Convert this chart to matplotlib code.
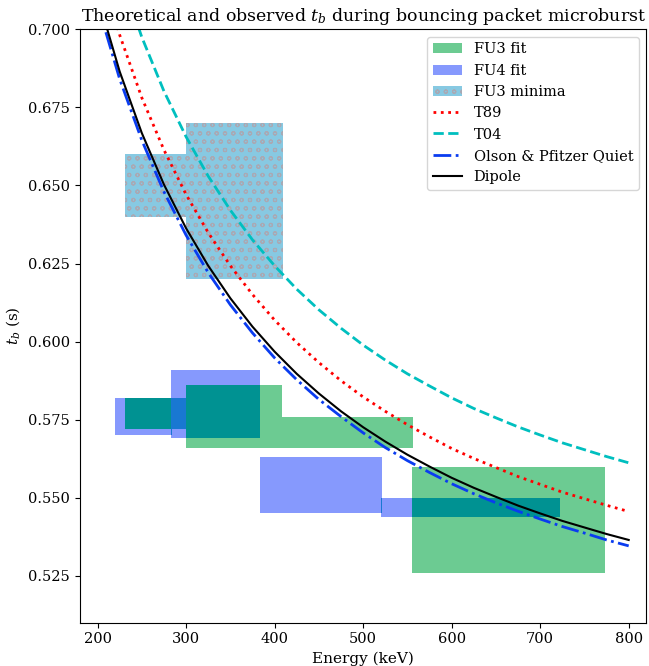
import matplotlib
matplotlib.use("Agg")
import matplotlib.pyplot as plt
from matplotlib.patches import Patch
from matplotlib.lines import Line2D

plt.rcParams['font.family'] = 'DejaVu Serif'
plt.rcParams['mathtext.fontset'] = 'dejavuserif'
plt.rcParams['hatch.linewidth'] = 0.8

# Theoretical bounce periods
energy = [200, 225, 250, 275, 300, 325, 350, 375, 400, 425, 450, 475, 500,
          525, 550, 575, 600, 625, 650, 675, 700, 725, 750, 775, 800]
t_dipole = [0.7106, 0.6865, 0.6668, 0.6503, 0.6363, 0.6243, 0.6139, 0.6048,
            0.5968, 0.5897, 0.5834, 0.5777, 0.5726, 0.5680, 0.5638, 0.5600,
            0.5564, 0.5532, 0.5503, 0.5475, 0.5450, 0.5426, 0.5405, 0.5384,
            0.5365]
t_t89 = [0.7227, 0.6982, 0.6781, 0.6614, 0.6471, 0.6349, 0.6243, 0.6151,
         0.6069, 0.5997, 0.5933, 0.5875, 0.5823, 0.5777, 0.5734, 0.5695,
         0.5658, 0.5626, 0.5597, 0.5568, 0.5543, 0.5518, 0.5497, 0.5476,
         0.5456]
t_t04 = [0.7433, 0.7181, 0.6975, 0.6802, 0.6656, 0.6530, 0.6421, 0.6326,
         0.6243, 0.6168, 0.6102, 0.6043, 0.5989, 0.5941, 0.5897, 0.5858,
         0.5820, 0.5786, 0.5756, 0.5727, 0.5701, 0.5676, 0.5654, 0.5632,
         0.5612]
t_op = [0.7081, 0.6841, 0.6645, 0.6480, 0.6341, 0.6221, 0.6118, 0.6028,
        0.5948, 0.5878, 0.5815, 0.5760, 0.5708, 0.5661, 0.5619, 0.5581,
        0.5545, 0.5513, 0.5484, 0.5457, 0.5432, 0.5408, 0.5387, 0.5365,
        0.5346]

# Observed t_b boxes (energy channel x t_b range)
fu3_e_lo = [231, 300, 408, 555]
fu3_e_hi = [300, 408, 556, 773]
fu3_tb_lo = [0.572, 0.566, 0.566, 0.526]
fu3_tb_hi = [0.582, 0.586, 0.576, 0.560]

fu4_e_lo = [220, 283, 383, 520]
fu4_e_hi = [284, 384, 521, 722]
fu4_tb_lo = [0.570, 0.569, 0.545, 0.544]
fu4_tb_hi = [0.582, 0.591, 0.563, 0.550]

min_e_lo = [231, 300]
min_e_hi = [300, 409]
min_tb_lo = [0.640, 0.620]
min_tb_hi = [0.660, 0.670]

c_fu3 = '#6ccb92'
c_fu4 = '#8699fd'
c_teal = '#009292'   # FU3 fit drawn over FU4 fit
c_dark = '#1978d2'   # FU4 fit drawn over another fit box
c_min = '#87c9e2'
c_hatch = '#a9a9b4'

fig = plt.figure(figsize=(6.49, 6.66), dpi=100)
ax = fig.add_axes([0.123, 0.065, 0.873, 0.891])

# boxes drawn channel by channel: FU4 then FU3
drawn = []
for i in range(4):
    for kind, elo, ehi, tlo, thi, col in [
            ('fu4', fu4_e_lo[i], fu4_e_hi[i], fu4_tb_lo[i], fu4_tb_hi[i], c_fu4),
            ('fu3', fu3_e_lo[i], fu3_e_hi[i], fu3_tb_lo[i], fu3_tb_hi[i], c_fu3)]:
        ax.fill_between([elo, ehi], [tlo, tlo], [thi, thi], color=col, lw=0)
        for pk, pelo, pehi, ptlo, pthi in drawn:
            x0, x1 = max(elo, pelo), min(ehi, pehi)
            y0, y1 = max(tlo, ptlo), min(thi, pthi)
            if x1 <= x0 or y1 <= y0:
                continue
            if kind == 'fu3' and pk == 'fu3':
                continue
            oc = c_teal if kind == 'fu3' else c_dark
            ax.fill_between([x0, x1], [y0, y0], [y1, y1], color=oc, lw=0)
        drawn.append((kind, elo, ehi, tlo, thi))

for i in range(len(min_e_lo)):
    ax.fill_between([min_e_lo[i], min_e_hi[i]], [min_tb_lo[i]] * 2,
                    [min_tb_hi[i]] * 2, facecolor=c_min,
                    edgecolor=c_hatch, lw=0, hatch='oo')

ax.plot(energy, t_t89, ':', color='red', lw=2)
ax.plot(energy, t_t04, '--', color='c', lw=2)
ax.plot(energy, t_op, '-.', color='#0a3cf0', lw=2)
ax.plot(energy, t_dipole, '-', color='k', lw=1.5)

ax.set_xlim(180, 820)
ax.set_ylim(0.51, 0.70)
ax.tick_params(labelsize=10.5)
ax.set_xlabel('Energy (keV)', fontsize=11)
ax.set_ylabel('$t_b$ (s)', fontsize=11)
ax.set_title('Theoretical and observed $t_b$ during bouncing packet microburst',
             fontsize=12.5)

handles = [Patch(facecolor=c_fu3, label='FU3 fit'),
           Patch(facecolor=c_fu4, label='FU4 fit'),
           Patch(facecolor=c_min, edgecolor=c_hatch, lw=0, hatch='oo',
                 label='FU3 minima'),
           Line2D([], [], ls=':', color='red', lw=2, label='T89'),
           Line2D([], [], ls='--', color='c', lw=2, label='T04'),
           Line2D([], [], ls='-.', color='#0a3cf0', lw=2,
                  label='Olson & Pfitzer Quiet'),
           Line2D([], [], ls='-', color='k', lw=1.5, label='Dipole')]
ax.legend(handles=handles, loc='upper right', fontsize=10.5)

fig.savefig('out.png', dpi=100)
